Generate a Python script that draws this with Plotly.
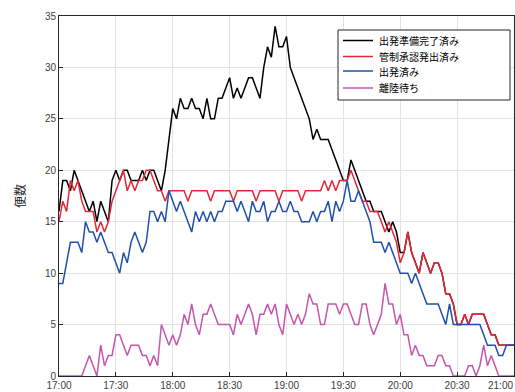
import pandas as pd
import plotly.graph_objects as go

# Sampling every 2 minutes from 17:00 to 21:00
times = pd.date_range("2024-01-01 17:00", "2024-01-01 21:00", freq="2min")

series_names = ["出発準備完了済み", "管制承認発出済み", "出発済み", "離陸待ち"]

ready = [16, 19, 19, 18, 20, 19, 18, 17, 16, 17, 15, 17, 16, 15, 19, 20, 19, 20, 20, 19,
         19, 19, 20, 19, 20, 20, 19, 18, 20, 23, 26, 25, 27, 26, 26, 27, 26, 26, 25, 27,
         25, 25, 27, 27, 28, 29, 27, 28, 27, 28, 29, 29, 28, 27, 30, 32, 31, 34, 32, 32,
         33, 30, 29, 28, 27, 26, 25, 23, 24, 23, 23, 23, 22, 21, 20, 19, 19, 21, 20, 19,
         18, 17, 17, 16, 16, 16, 15, 14, 15, 14, 12, 12, 14, 12, 11, 10, 12, 11, 10, 11,
         11, 10, 8, 8, 7, 5, 5, 6, 5, 6, 6, 6, 6, 5, 4, 4, 3, 3, 3, 3, 3]

cleared = [15, 17, 16, 19, 18, 19, 17, 16, 16, 16, 14, 15, 14, 15, 17, 18, 19, 20, 18, 19,
           18, 19, 19, 20, 20, 19, 18, 18, 17, 18, 18, 18, 18, 18, 17, 18, 18, 18, 18, 18,
           17, 18, 18, 18, 18, 18, 17, 18, 18, 18, 18, 18, 17, 18, 18, 18, 18, 18, 17, 18,
           18, 18, 18, 18, 17, 18, 18, 18, 18, 18, 19, 18, 19, 18, 19, 19, 19, 20, 19, 18,
           17, 17, 16, 16, 16, 15, 14, 15, 14, 13, 11, 12, 14, 12, 11, 10, 12, 11, 10, 11,
           11, 10, 8, 8, 7, 5, 5, 6, 5, 6, 6, 6, 6, 5, 4, 4, 3, 3, 3, 3, 3]

departed = [9, 9, 11, 13, 13, 13, 12, 15, 14, 14, 13, 14, 13, 12, 12, 11, 10, 12, 11, 13,
            14, 13, 12, 13, 16, 16, 15, 16, 15, 18, 17, 16, 17, 16, 15, 14, 16, 15, 16, 15,
            16, 15, 16, 16, 17, 17, 17, 16, 17, 16, 15, 17, 16, 16, 17, 15, 16, 16, 17, 16,
            16, 17, 16, 16, 15, 15, 15, 16, 15, 16, 16, 17, 15, 17, 16, 17, 19, 17, 17, 18,
            17, 16, 15, 13, 13, 13, 12, 13, 12, 11, 10, 10, 10, 9, 10, 9, 8, 7, 7, 7,
            7, 6, 5, 7, 5, 5, 5, 5, 5, 5, 5, 5, 4, 3, 3, 3, 2, 2, 3, 3, 3]

waiting = [0, 0, 0, 0, 0, 0, 0, 1, 2, 1, 0, 3, 1, 2, 2, 4, 4, 3, 2, 3,
           3, 3, 2, 2, 1, 2, 1, 5, 4, 3, 4, 3, 4, 6, 5, 7, 5, 4, 6, 6,
           7, 6, 5, 5, 5, 5, 4, 6, 5, 6, 7, 6, 4, 6, 6, 7, 6, 7, 5, 4,
           7, 6, 5, 6, 5, 6, 8, 7, 7, 5, 5, 7, 7, 7, 6, 7, 7, 6, 5, 5,
           7, 7, 5, 4, 5, 6, 9, 7, 7, 5, 6, 4, 4, 2, 3, 2, 2, 1, 1, 1,
           2, 2, 1, 1, 0, 0, 0, 0, 1, 1, 0, 1, 3, 1, 2, 1, 0, 0, 0, 0, 0]

colors = ["#000000", "#e3283a", "#1f50ad", "#c457ad"]

W, H = 515, 392
ML, MR, MT, MB = 59, 1, 16, 16
PW, PH = W - ML - MR, H - MT - MB


def px_to_paper(px, py):
    return (px - ML) / PW, 1 - (py - MT) / PH


fig = go.Figure()
for name, vals, col in zip(series_names, [ready, cleared, departed, waiting], colors):
    fig.add_trace(go.Scatter(x=times, y=vals, mode="lines", name=name,
                             line=dict(color=col, width=1.5), showlegend=False))

# Boxed legend in the upper right of the axes
shapes = []
annotations = []
bx0, by0 = px_to_paper(338, 30)
bx1, by1 = px_to_paper(510, 100)
shapes.append(dict(type="rect", xref="paper", yref="paper", x0=bx0, y0=by1, x1=bx1, y1=by0,
                   line=dict(color="#262626", width=1), fillcolor="white", layer="above"))
row_y = [40.5, 56.5, 71, 88]
for name, col, ry in zip(series_names, colors, row_y):
    lx0, ly = px_to_paper(343, ry)
    lx1, _ = px_to_paper(373, ry)
    shapes.append(dict(type="line", xref="paper", yref="paper", x0=lx0, x1=lx1, y0=ly, y1=ly,
                       line=dict(color=col, width=1.5), layer="above"))
    tx, _ = px_to_paper(377, ry)
    annotations.append(dict(text=name, xref="paper", yref="paper", x=tx, y=ly,
                            xanchor="left", yanchor="middle", showarrow=False,
                            font=dict(family="Noto Sans CJK JP, sans-serif", size=10, color="#000000")))

axis_font = dict(family="Liberation Sans, Arial, sans-serif", size=10, color="#404040")

# last time label sits against the right border
annotations.append(dict(text="21:00", x=times[-1], y=0, xref="x", yref="y",
                        xanchor="right", yanchor="top", yshift=-2, xshift=1, showarrow=False,
                        font=axis_font))

fig.update_layout(
    width=W, height=H,
    margin=dict(l=ML, r=MR, t=MT, b=MB),
    paper_bgcolor="white", plot_bgcolor="white",
    font=dict(family="Liberation Sans, Noto Sans CJK JP, sans-serif", size=10, color="#262626"),
    showlegend=False,
    shapes=shapes,
    annotations=annotations,
    xaxis=dict(
        range=[times[0], times[-1]],
        tickformat="%H:%M", dtick=30 * 60 * 1000,
        showgrid=True, gridcolor="#e3e3e3", gridwidth=1,
        showline=True, mirror=True, linecolor="#262626", linewidth=1,
        ticks="inside", ticklen=4, tickcolor="#262626",
        tickfont=axis_font, zeroline=False,
    ),
    yaxis=dict(
        range=[0, 35], dtick=5,
        showgrid=True, gridcolor="#e3e3e3", gridwidth=1,
        showline=True, mirror=True, linecolor="#262626", linewidth=1,
        ticks="inside", ticklen=4, tickcolor="#262626",
        tickfont=axis_font, zeroline=False,
        title=dict(text="便数", font=dict(family="Noto Sans CJK JP, sans-serif", size=12, color="#262626"),
                   standoff=16),
    ),
)

fig.write_html("out.html")
